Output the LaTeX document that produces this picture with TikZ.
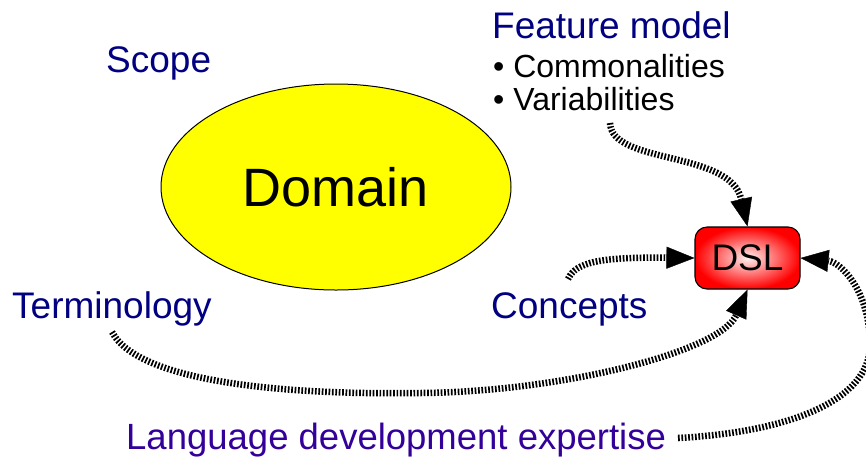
\documentclass[tikz,border=0pt]{standalone}
\usepackage{fontspec}
\setmainfont{Liberation Sans}
\usetikzlibrary{arrows.meta,shapes.geometric}

\definecolor{navy}{HTML}{000080}
\definecolor{indigo}{HTML}{330099}
\definecolor{domainyellow}{HTML}{FFFF00}
\definecolor{dslred}{HTML}{FF0000}

\tikzset{
  label/.style={inner sep=0pt, anchor=base west, text=navy, font=\fontsize{37}{40}\selectfont},
  bullet/.style={inner sep=0pt, anchor=base west, text=black, font=\fontsize{32}{36}\selectfont},
  flow/.style={line width=6.5pt, dash pattern=on 1.7pt off 1.7pt,
    -{Triangle[length=28pt,width=22pt,line width=0.4pt]}},
}

\begin{document}
\begin{tikzpicture}[x=1pt,y=-1pt]
  \useasboundingbox (0,0) rectangle (866,459);
  \clip (0,0) rectangle (866,459);

  % the domain
  \node[ellipse, draw=black, line width=1pt, fill=domainyellow,
        minimum width=350pt, minimum height=206pt, inner sep=0pt,
        font=\fontsize{54}{60}\selectfont] (domain) at (336,187) {Domain};

  % the language
  \node[draw=black, line width=1.1pt, rounded corners=12pt,
        minimum width=105pt, minimum height=62pt, inner sep=0pt,
        shading=radial, inner color=red!6, outer color=dslred,
        font=\fontsize{37}{40}\selectfont] (dsl) at (747.5,258) {DSL};

  % labels
  \node[label] (scope) at (106,72) {Scope};
  \node[label] (fm) at (492,38) {Feature model};
  \node[bullet] (com) at (493,77) {• Commonalities};
  \node[bullet] (var) at (493,110) {• Variabilities};
  \node[label] (term) at (12,318) {Terminology};
  \node[label] (conc) at (491,318) {Concepts};
  \node[label, text=indigo, font=\fontsize{36.5}{40}\selectfont] (lang) at (126,449)
    {Language development expertise};

  % loose ends of the connectors
  \coordinate (varend) at (610,123);
  \coordinate (concend) at (568,279);
  \coordinate (termend) at (112,332);
  \coordinate (termlow) at (420,393);
  \coordinate (langend) at (678,438);
  \coordinate (langright) at (870,345);

  % connectors
  \draw[flow] (varend) .. controls (612,165) and (730,150) .. (dsl.north);
  \draw[flow] (concend) .. controls (576,262) and (600,257) .. (dsl.west);
  \draw[flow] (termend) .. controls (140,385) and (300,395) .. (termlow)
                        .. controls (560,392) and (720,352) .. (dsl.south);
  \draw[flow] (langend) .. controls (790,432) and (870,400) .. (langright)
                        .. controls (870,290) and (840,262) .. (dsl.east);
\end{tikzpicture}
\end{document}
